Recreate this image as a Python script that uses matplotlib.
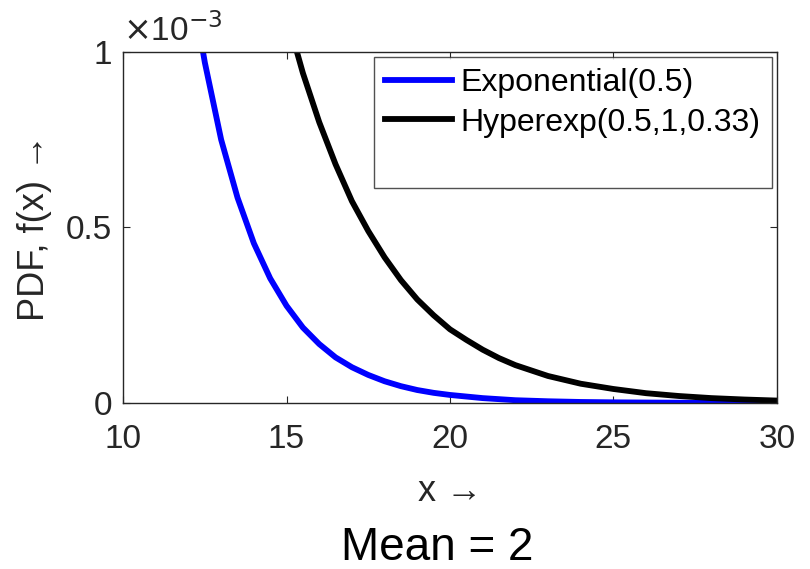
import numpy as np
import matplotlib.pyplot as plt
from matplotlib.lines import Line2D
from matplotlib.ticker import FuncFormatter

plt.rcParams['font.family'] = ['Liberation Sans', 'DejaVu Sans']

# values, pdf in units of 1e-3
x_exp = [12, 12.5, 13, 13.5, 14, 14.5, 15, 15.5, 16, 16.5, 17, 17.5, 18, 18.5, 19, 19.5,
         20, 21, 22, 23, 24, 25, 26, 27, 28, 29, 30]
pdf_exp = [1.24, 0.97, 0.75, 0.585, 0.455, 0.355, 0.277, 0.215, 0.168, 0.13, 0.102, 0.08,
           0.062, 0.048, 0.037, 0.029, 0.023, 0.014, 0.008, 0.005, 0.003, 0.002, 0.0014,
           0.0009, 0.0005, 0.0003, 0.0002]

x_hyp = [15, 15.5, 16, 16.5, 17, 17.5, 18, 18.5, 19, 19.5, 20, 20.5, 21, 21.5, 22, 23,
         24, 25, 26, 27, 28, 29, 30]
pdf_hyp = [1.105, 0.94, 0.80, 0.68, 0.575, 0.49, 0.415, 0.35, 0.295, 0.25, 0.21, 0.18,
           0.152, 0.128, 0.108, 0.077, 0.055, 0.04, 0.028, 0.02, 0.014, 0.01, 0.007]

labels = ['Exponential(0.5)', 'Hyperexp(0.5,1,0.33)']
grey = '#262626'

fig = plt.figure(figsize=(8.1, 5.69), dpi=100)
ax = fig.add_axes([0.152, 0.2917, 0.807, 0.617])

l1, = ax.plot(x_exp, np.array(pdf_exp) * 1e-3, color='#0000ff', lw=4.2, label=labels[0])
l2, = ax.plot(x_hyp, np.array(pdf_hyp) * 1e-3, color='black', lw=4.2, label=labels[1])

ax.set_xlim(10, 30)
ax.set_ylim(0, 1e-3)
ax.set_xticks([10, 15, 20, 25, 30])
ax.set_yticks([0, 0.5e-3, 1e-3])
ax.yaxis.set_major_formatter(FuncFormatter(lambda v, p: '%g' % round(v * 1e3, 3)))
ax.tick_params(direction='in', top=True, right=True, length=5, width=0.8,
               labelsize=24, colors=grey)
ax.tick_params(axis='x', pad=15)
ax.tick_params(axis='y', pad=8)
for s in ax.spines.values():
    s.set_color(grey)
    s.set_linewidth(1.0)

ax.text(0.0, 1.01, r'$\times$10$^{-3}$', transform=ax.transAxes, fontsize=24,
        color=grey, ha='left', va='bottom')

ax.set_xlabel('x \u2192', fontsize=26, color=grey, labelpad=14)
ax.set_ylabel('PDF, f(x) \u2192', fontsize=26, color=grey, labelpad=10)

blank = Line2D([], [], color='none')
leg = ax.legend([l1, l2, blank], labels + [''], loc='upper right', fontsize=23,
                frameon=True, fancybox=False, borderaxespad=0.15, handlelength=2.1,
                handletextpad=0.28, labelspacing=0.3, borderpad=0.35)
leg.get_frame().set_edgecolor(grey)
leg.get_frame().set_linewidth(1.0)

fig.text(0.54, 0.037, 'Mean = 2', fontsize=33, ha='center', va='center', color='black')

fig.savefig('out.png', dpi=100)
